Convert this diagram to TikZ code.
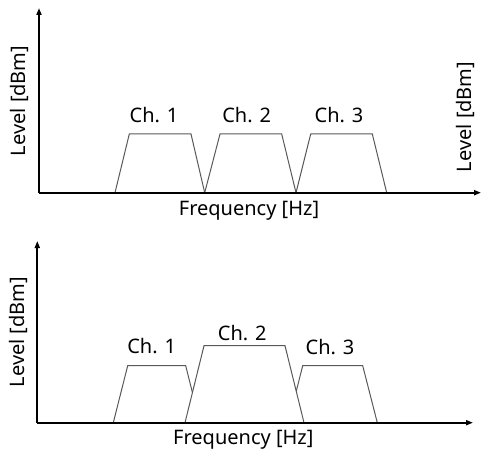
\documentclass[tikz,border=0pt]{standalone}
\usepackage{fontspec}
\setmainfont{Noto Sans}
\usetikzlibrary{arrows.meta}
\begin{document}
\begin{tikzpicture}[x=1pt,y=-1pt,
  axis/.style={line width=2.2pt,-{Triangle[length=7pt,width=5pt]}},
  band/.style={draw=black!65,line width=1pt,line join=miter},
  lbl/.style={font=\fontsize{20}{24}\selectfont,inner sep=0pt}]
\useasboundingbox (0,0) rectangle (481,454);
% ---------- top panel ----------
\coordinate (o1) at (39,192.7);
\coordinate (y1) at (39,8);
\coordinate (x1) at (481,192.7);
\draw[band] (115,192.7) -- (129.3,134) -- (191,134) -- (204.7,192.7);
\draw[band] (204.7,192.7) -- (220,134) -- (281.7,134) -- (296,192.7);
\draw[band] (296,192.7) -- (310.7,134) -- (372.3,134) -- (386.7,192.7);
\draw[axis] (o1) -- (y1);
\draw[axis] (o1) -- (x1);
\node[lbl] (t1) at (154,115) {Ch. 1};
\node[lbl] (t2) at (246.7,115) {Ch. 2};
\node[lbl] (t3) at (339,115) {Ch. 3};
\node[lbl] (fx1) at (249,211) {Frequency [Hz]};
\node[lbl,rotate=90] (ly1) at (19,101) {Level [dBm]};
\node[lbl,rotate=90] (ly2) at (465,117) {Level [dBm]};
% ---------- bottom panel ----------
\coordinate (o2) at (37.3,422.7);
\coordinate (y2) at (37.3,241);
\coordinate (x2) at (473,422.7);
\draw[band] (113.3,422.7) -- (127.7,365.7) -- (185.7,365.7) -- (200,422.7);
\draw[band] (288.3,422.7) -- (302.7,365.7) -- (362.7,365.7) -- (377.3,422.7);
\draw[band,fill=white] (185,422.7) -- (204,345.7) -- (285,345.7) -- (304,422.7) -- cycle;
\draw[axis] (o2) -- (y2);
\draw[axis] (o2) -- (x2);
\node[lbl] (b1) at (151.7,346) {Ch. 1};
\node[lbl] (b2) at (242.3,332.7) {Ch. 2};
\node[lbl] (b3) at (330,346.7) {Ch. 3};
\node[lbl] (fx2) at (243.3,440) {Frequency [Hz]};
\node[lbl,rotate=90] (ly3) at (18.3,332) {Level [dBm]};
\end{tikzpicture}
\end{document}
